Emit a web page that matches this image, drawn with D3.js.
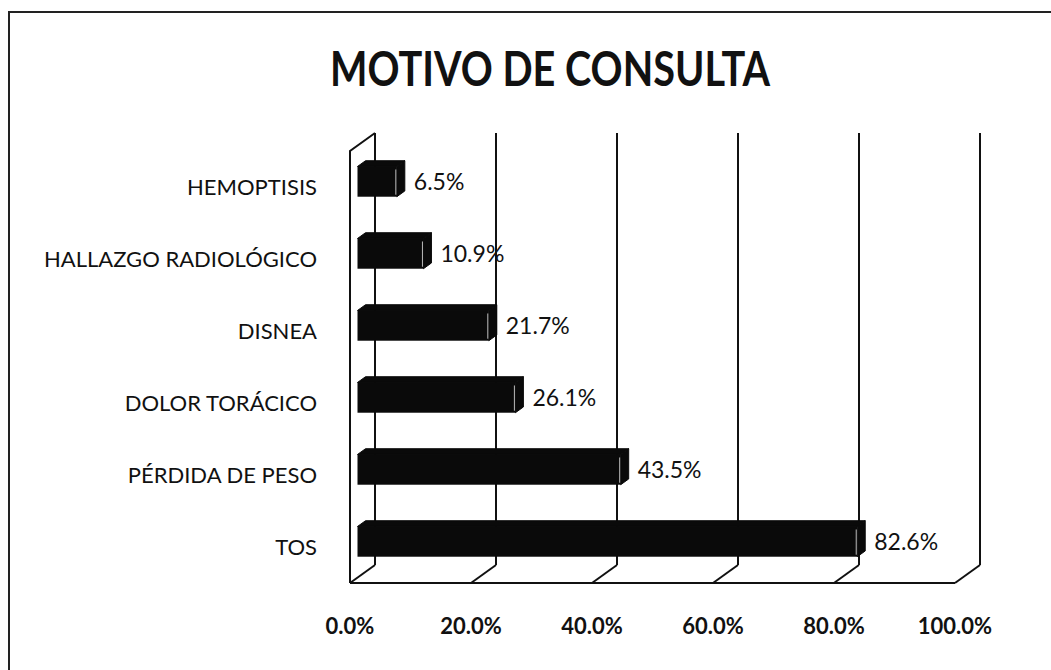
<!DOCTYPE html>
<html>
<head>
<meta charset="utf-8">
<title>Motivo de consulta</title>
<script src="https://d3js.org/d3.v7.min.js"></script>
<style>
  body { margin: 0; background: #fff; }
  text { font-family: Lato, "Open Sans", sans-serif; fill: #111; }
</style>
</head>
<body>
<div id="chart"></div>
<script>
// data
var categories = ["HEMOPTISIS", "HALLAZGO RADIOLÓGICO", "DISNEA", "DOLOR TORÁCICO", "PÉRDIDA DE PESO", "TOS"];
var values = [6.5, 10.9, 21.7, 26.1, 43.5, 82.6];
var ticks = [0, 20, 40, 60, 80, 100];

var width = 1051, height = 670;
var DX = 25, DY = -18;      // depth of the 3d box
var t0 = 0.3, t1 = 0.62;    // bar depth span (fraction of box depth)

var svg = d3.select("#chart").append("svg")
  .attr("width", width)
  .attr("height", height);

// outer frame
svg.append("rect")
  .attr("x", 9).attr("y", 12)
  .attr("width", width + 20).attr("height", height + 20)
  .attr("fill", "none").attr("stroke", "#222").attr("stroke-width", 2);

// title (Calibri-like narrow look)
svg.append("text")
  .attr("x", 550).attr("y", 86)
  .attr("text-anchor", "middle")
  .attr("textLength", 440).attr("lengthAdjust", "spacingAndGlyphs")
  .style("font-weight", "bold").style("font-size", "47px")
  .text("MOTIVO DE CONSULTA");

// scales on the front plane
var x = d3.scaleLinear().domain([0, 100]).range([350, 955]);
var y = d3.scaleBand().domain(categories).range([151, 583])
  .paddingInner(0.58).paddingOuter(0.29);

var top0 = 151, bottom0 = 583;
var g = svg.append("g");

// back wall gridlines + floor lines
ticks.forEach(function(t) {
  g.append("line")
    .attr("x1", x(t) + DX).attr("y1", top0 + DY)
    .attr("x2", x(t) + DX).attr("y2", bottom0 + DY)
    .attr("stroke", "#111").attr("stroke-width", 2);
  g.append("line")
    .attr("x1", x(t)).attr("y1", bottom0)
    .attr("x2", x(t) + DX).attr("y2", bottom0 + DY)
    .attr("stroke", "#111").attr("stroke-width", 2);
});

// left side wall
g.append("path")
  .attr("d", "M" + x(0) + "," + bottom0 + "V" + top0 + "L" + (x(0) + DX) + "," + (top0 + DY))
  .attr("fill", "none").attr("stroke", "#111").attr("stroke-width", 2);
// floor front edge
g.append("line")
  .attr("x1", x(0)).attr("y1", bottom0)
  .attr("x2", x(100)).attr("y2", bottom0)
  .attr("stroke", "#111").attr("stroke-width", 2);

// bars as boxes
var bars = g.selectAll(".bar").data(values).enter().append("g").attr("class", "bar");

bars.each(function(v, i) {
  var sel = d3.select(this);
  var xa = x(0) + t0 * DX, xb = x(v) + t0 * DX;
  var ya = y(categories[i]) + t0 * DY, yb = ya + y.bandwidth();
  var ddx = (t1 - t0) * DX, ddy = (t1 - t0) * DY;
  // top face
  sel.append("path")
    .attr("d", "M" + xa + "," + ya + "L" + (xa + ddx) + "," + (ya + ddy) +
      "L" + (xb + ddx) + "," + (ya + ddy) + "L" + xb + "," + ya + "Z")
    .attr("fill", "#0a0a0a").attr("stroke", "#0a0a0a");
  // right face
  sel.append("path")
    .attr("d", "M" + xb + "," + ya + "L" + (xb + ddx) + "," + (ya + ddy) +
      "L" + (xb + ddx) + "," + (yb + ddy) + "L" + xb + "," + yb + "Z")
    .attr("fill", "#0a0a0a").attr("stroke", "#0a0a0a");
  // front face
  sel.append("rect")
    .attr("x", xa).attr("y", ya)
    .attr("width", xb - xa).attr("height", yb - ya)
    .attr("fill", "#0a0a0a");
  sel.append("line")
    .attr("x1", xb - 1).attr("y1", ya + 3)
    .attr("x2", xb - 1).attr("y2", yb - 2)
    .attr("stroke", "#bbb").attr("stroke-width", 1);
  // value label
  sel.append("text")
    .attr("x", x(v) + t1 * DX + 9)
    .attr("y", y(categories[i]) + y.bandwidth() / 2 + t0 * DY)
    .attr("dy", "0.36em")
    .style("font-size", "23px")
    .text(v.toFixed(1) + "%");
});

// category labels
svg.selectAll(".cat").data(categories).enter().append("text")
  .attr("x", 317)
  .attr("y", function(d) { return y(d) + y.bandwidth() / 2; })
  .attr("dy", "0.36em")
  .attr("text-anchor", "end")
  .style("font-size", "22px")
  .text(function(d) { return d; });

// value axis labels
svg.selectAll(".tick").data(ticks).enter().append("text")
  .attr("x", function(d) { return x(d); })
  .attr("y", 634)
  .attr("text-anchor", "middle")
  .style("font-size", "22px")
  .style("font-weight", "bold")
  .text(function(d) { return d.toFixed(1) + "%"; });
</script>
</body>
</html>
